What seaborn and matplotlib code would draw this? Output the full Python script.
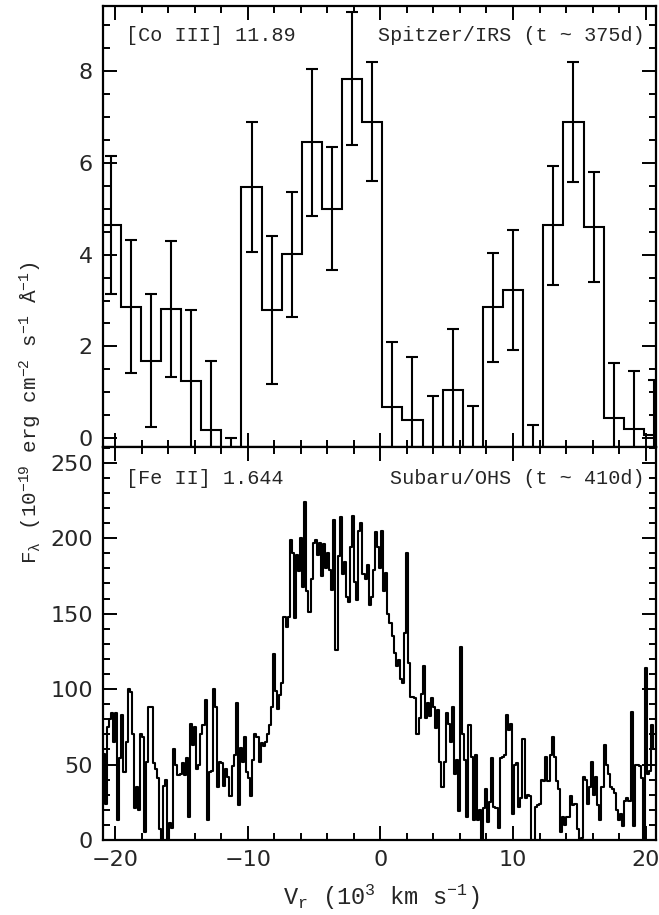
import numpy as np
import matplotlib
matplotlib.use("Agg")
import matplotlib.pyplot as plt
from matplotlib.ticker import MultipleLocator
import seaborn as sns

## DATA ##

# top panel: [Co III] 11.89 (Spitzer/IRS), binned flux with 1-sigma errors
co_v_first = -20.35     # centre of first bin (10^3 km/s)
co_bin = 1.518          # bin width (10^3 km/s)
co_flux = [4.65, 2.87, 1.69, 2.82, 1.25, 0.17, -1.5, 5.47, 2.79, 4.01,
           6.45, 5.0, 7.84, 6.9, 0.69, 0.40, -0.5, 1.04, -0.65, 2.85,
           3.23, -1.0, 4.64, 6.9, 4.61, 0.45, 0.2, 0.07]
co_err = [1.51, 1.45, 1.45, 1.48, 1.54, 1.51, 1.5, 1.42, 1.61, 1.36,
          1.6, 1.34, 1.45, 1.29, 1.4, 1.38, 1.41, 1.33, 1.35, 1.18,
          1.3, 1.28, 1.3, 1.31, 1.2, 1.18, 1.27, 1.2]

fe_flux = [57, 24, 75, 80, 84, 65, 84, 13, 54, 83, 45, 65, 100, 98, 70, 21, 35, 20, 70, 68,
           5, 52, 88, 88, 51, 47, 41, 7, 0, 36, 40, 0, 11, 8, 60, 50, 43, 44, 51, 43,
           54, 15, 77, 63, 75, 47, 50, 70, 76, 93, 13, 45, 46, 100, 88, 35, 52, 51, 36, 47,
           42, 29, 49, 56, 91, 23, 61,
           52, 68, 45, 41, 29, 53, 70, 68, 52, 64, 62, 65, 70, 76, 88, 123, 99, 87, 96, 104,
           148, 141, 148, 199, 190, 147, 189, 178, 200, 168, 224, 165, 151, 173, 197, 199, 189, 197, 175, 196,
           180, 190, 179, 166, 212, 126, 188, 214, 176, 184, 161, 158, 194, 215, 171, 159, 205, 210, 176, 173,
           182, 156, 161, 179, 204, 194, 180, 205,
           165, 177, 150, 144, 135, 124, 115, 119, 107, 104, 137, 190, 117, 95, 95, 94, 70, 81, 97, 115,
           81, 91, 82, 94, 88, 74, 86, 52, 35, 52, 84, 77, 65, 88, 44, 53, 19, 128, 70, 53,
           15, 76, 55, 13, 56, 13, 20, 0, 21, 34, 12, 25, 54, 22, 21, 8, 54, 55, 56, 83,
           73, 77, 17, 50, 51, 22,
           28, 67, 28, 30, 29, 0, 0, 22, 23, 24, 40, 39, 55, 39, 56, 68, 55, 39, 34, 5,
           15, 10, 15, 15, 29, 23, 24, 7, 0, 1, 42, 40, 24, 35, 52, 30, 42, 23, 13, 35,
           63, 50, 44, 35, 34, 31, 20, 13, 17, 9, 26, 28, 26, 85, 9, 50, 50, 49, 41, 0,
           114, 44, 46, 76, 60]

v_min, v_max = -20.95, 20.75
x_ticks = [-20, -10, 0, 10, 20]
top_label = ("[Co III] 11.89", "Spitzer/IRS (t ~ 375d)")
bot_label = ("[Fe II] 1.644", "Subaru/OHS (t ~ 410d)")

#######

sns.set_style("ticks")
plt.rcParams["font.family"] = ["DejaVu Sans"]
plt.rcParams["mathtext.fontset"] = "custom"
plt.rcParams["mathtext.rm"] = "Liberation Mono"
plt.rcParams["mathtext.it"] = "Liberation Mono"
plt.rcParams["mathtext.default"] = "rm"

mono = "Liberation Mono"

fig = plt.figure(figsize=(6.59, 9.15), dpi=100)
ax1 = fig.add_axes([0.1558, 0.5111, 0.8389, 0.4823])
ax2 = fig.add_axes([0.1558, 0.0820, 0.8389, 0.4292], sharex=ax1)

# top panel: step histogram + error bars
co_centres = co_v_first + co_bin * np.arange(len(co_flux))
co_edges = np.append(co_centres - co_bin / 2, co_centres[-1] + co_bin / 2)
ax1.stairs(co_flux, co_edges, color="black", lw=1.5, baseline=None)
ax1.errorbar(co_centres, co_flux, yerr=co_err, fmt="none", ecolor="black",
             elinewidth=1.5, capsize=4.2, capthick=1.5)
ax1.set_ylim(-0.2, 9.42)

# bottom panel: spectrum
fe_bin = (v_max - v_min) / len(fe_flux)
fe_centres = v_min + fe_bin * (np.arange(len(fe_flux)) + 0.5)
sns.lineplot(x=fe_centres, y=fe_flux, ax=ax2, color="black", lw=1.5,
             drawstyle="steps-mid", estimator=None, errorbar=None)
ax2.set_ylim(0, 260.3)
ax2.set_xlim(v_min, v_max)

# axes styling
for ax in (ax1, ax2):
    for sp in ax.spines.values():
        sp.set_visible(True)
        sp.set_linewidth(1.6)
        sp.set_color("black")
    ax.tick_params(which="both", direction="in", top=True, right=True,
                   width=1.4, color="black", labelsize=16, pad=7)
    ax.tick_params(which="major", length=10)
    ax.tick_params(which="minor", length=5)
    ax.xaxis.set_major_locator(MultipleLocator(10))
    ax.xaxis.set_minor_locator(MultipleLocator(2))
    ax.set_xlabel("")
    ax.set_ylabel("")

ax1.yaxis.set_major_locator(MultipleLocator(2))
ax1.yaxis.set_minor_locator(MultipleLocator(0.5))
ax2.yaxis.set_major_locator(MultipleLocator(50))
ax2.yaxis.set_minor_locator(MultipleLocator(10))
ax1.tick_params(labelbottom=False)
ax2.set_xticks(x_ticks)
ax2.set_xticklabels(["\u221220", "\u221210", "0", "10", "20"])

# panel annotations
ax1.text(0.042, 0.934, top_label[0], transform=ax1.transAxes, family=mono,
         fontsize=14.5, ha="left", va="center")
ax1.text(0.981, 0.934, top_label[1], transform=ax1.transAxes, family=mono,
         fontsize=14.5, ha="right", va="center")
ax2.text(0.042, 0.921, bot_label[0], transform=ax2.transAxes, family=mono,
         fontsize=14.5, ha="left", va="center")
ax2.text(0.981, 0.921, bot_label[1], transform=ax2.transAxes, family=mono,
         fontsize=14.5, ha="right", va="center")

# shared axis labels
fig.text(0.578, 0.0195, r"V$_{\mathrm{r}}$ (10$^{3}$ km s$^{-1}$)", family=mono,
         fontsize=17, ha="center", va="center")
fig.text(0.046, 0.549,
         r"F$_{\mathrm{λ}}$ (10$^{-19}$ erg cm$^{-2}$ s$^{-1}$ Å$^{-1}$)",
         family=mono, fontsize=15, ha="center", va="center", rotation=90)

fig.savefig("out.png", dpi=100)
